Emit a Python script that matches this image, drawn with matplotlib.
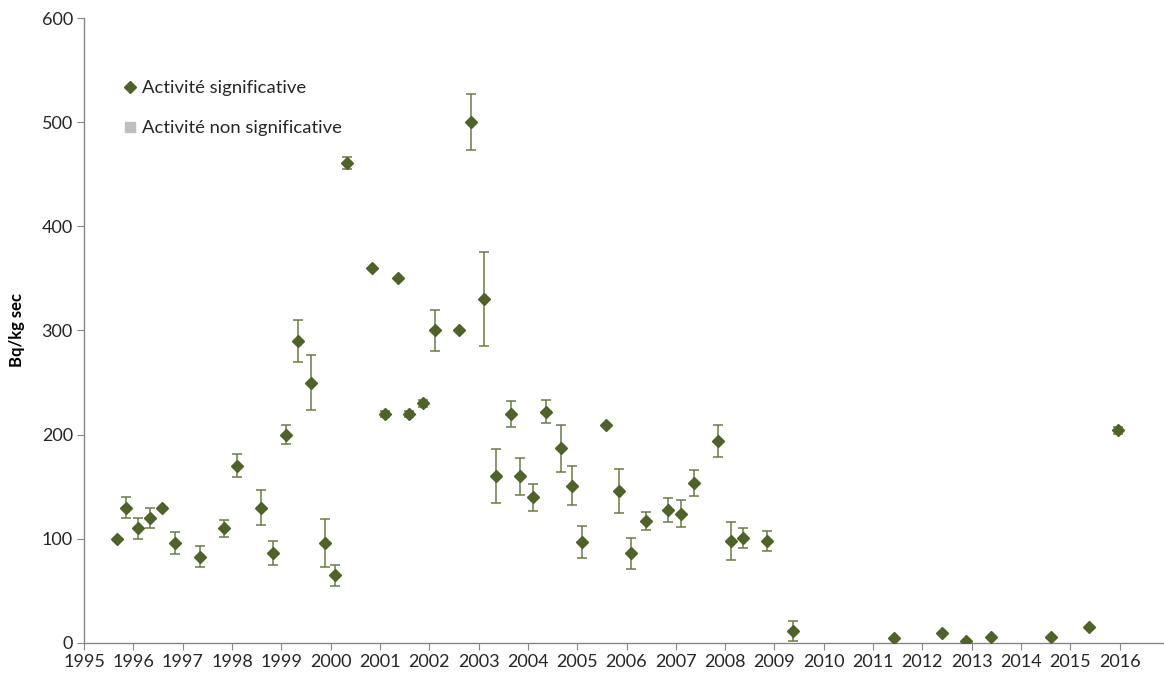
#!/usr/bin/env python3
# -*- coding: utf-8 -*-
"""Activité (Bq/kg sec) 1995-2016, points avec incertitude."""

import matplotlib
matplotlib.use("Agg")
import matplotlib.pyplot as plt

plt.rcParams['font.family'] = ['Lato', 'DejaVu Sans']

# dates des prélèvements (année décimale)
years = [1995.66, 1995.85, 1996.09, 1996.33, 1996.59, 1996.85, 1997.35, 1997.84,
         1998.10, 1998.58, 1998.84, 1999.09, 1999.34, 1999.61, 1999.88, 2000.09,
         2000.34, 2000.84, 2001.10, 2001.36, 2001.59, 2001.88, 2002.11, 2002.60,
         2002.85, 2003.11, 2003.36, 2003.65, 2003.84, 2004.11, 2004.37, 2004.68,
         2004.89, 2005.10, 2005.58, 2005.85, 2006.09, 2006.39, 2006.85, 2007.11,
         2007.37, 2007.86, 2008.12, 2008.37, 2008.85, 2009.38, 2011.43, 2012.40,
         2012.88, 2013.39, 2014.61, 2015.38, 2015.97]
# activité mesurée
values = [100, 130, 110, 120, 130, 96, 83, 110,
          170, 130, 86, 200, 290, 250, 96, 65,
          461, 360, 220, 350, 220, 230, 300, 300,
          500, 330, 160, 220, 160, 140, 222, 187,
          151, 97, 209, 146, 86, 117, 128, 124,
          154, 194, 98, 101, 98, 11.5, 4.5, 9.5,
          2, 6, 6, 15, 204]
# incertitude (+/-)
errors = [0, 10, 10, 10, 0, 11, 10, 8,
          11, 17, 11.5, 9, 20, 26, 23, 10,
          6, 0, 3, 0, 3, 3, 20, 0,
          27, 45, 26, 12.5, 17.5, 13, 11, 22.5,
          18.5, 15.5, 0, 21, 15, 9, 11.5, 13,
          12.5, 15.5, 18.5, 9.5, 9.5, 10, 0, 0,
          0, 0, 0, 0, 3]

year_ticks = list(range(1995, 2017))
y_ticks = [0, 100, 200, 300, 400, 500, 600]

green = '#4f6228'
bar_col = '#6b7a42'
gray = '#868686'

fig = plt.figure(figsize=(11.64, 6.82), dpi=100)
ax = fig.add_axes([0.0722, 0.0572, 0.927, 0.9164])

ax.errorbar(years, values, yerr=errors, fmt='none', ecolor=bar_col,
            elinewidth=1.1, capsize=3.6, capthick=1.1, zorder=2)
ax.plot(years, values, linestyle='none', marker='D', markersize=6.3,
        color=green, markeredgecolor=green, zorder=3,
        label='Activité significative')
# série sans valeur, seulement pour la légende
ax.plot([], [], linestyle='none', marker='s', markersize=7,
        color='#bfbfbf', markeredgecolor='#bfbfbf',
        label='Activité non significative')

ax.set_xlim(1995, 2016.88)
ax.set_ylim(0, 600)
ax.set_xticks(year_ticks)
ax.set_yticks(y_ticks)

for s in ('top', 'right'):
    ax.spines[s].set_visible(False)
for s in ('left', 'bottom'):
    ax.spines[s].set_color(gray)
    ax.spines[s].set_linewidth(1.0)
ax.tick_params(axis='both', direction='out', length=5, color=gray,
               labelsize=13, labelcolor='#262626')
ax.tick_params(axis='x', pad=3)
ax.tick_params(axis='y', pad=3)

ax.set_ylabel('Bq/kg sec', fontsize=12, fontweight='bold', labelpad=12)

leg = ax.legend(loc='upper left', bbox_to_anchor=(0.026, 0.912), frameon=False,
                fontsize=13.3, handletextpad=0.1, labelspacing=1.3,
                handlelength=1.1, borderaxespad=0)
for t in leg.get_texts():
    t.set_color('#262626')

fig.savefig('out.png', dpi=100)
